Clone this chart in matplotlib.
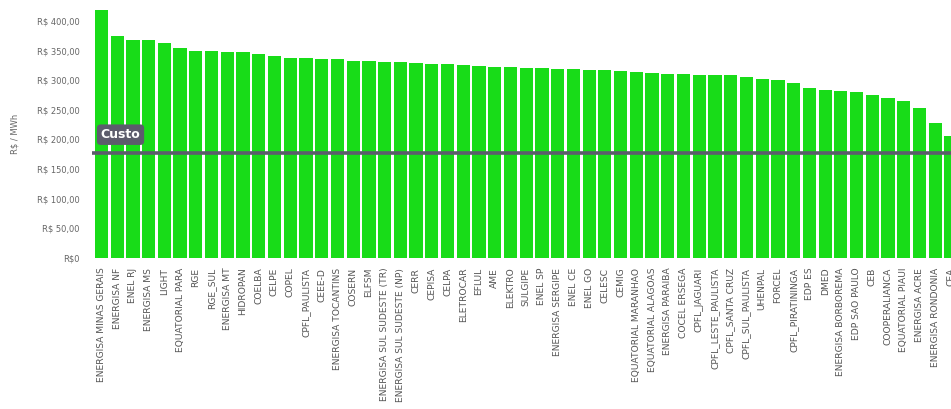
import matplotlib.pyplot as plt

distribuidoras = [
    'ENERGISA MINAS GERAIS', 'ENERGISA NF', 'ENEL RJ', 'ENERGISA MS', 'LIGHT',
    'EQUATORIAL PARA', 'RGE', 'RGE_SUL', 'ENERGISA MT', 'HIDROPAN',
    'COELBA', 'CELPE', 'COPEL', 'CPFL_PAULISTA', 'CEEE-D',
    'ENERGISA TOCANTINS', 'COSERN', 'ELFSM', 'ENERGISA SUL SUDESTE (TR)',
    'ENERGISA SUL SUDESTE (NP)', 'CERR', 'CEPISA', 'CELPA', 'ELETROCAR',
    'EFLUL', 'AME', 'ELEKTRO', 'SULGIPE', 'ENEL SP', 'ENERGISA SERGIPE',
    'ENEL CE', 'ENEL GO', 'CELESC', 'CEMIG', 'EQUATORIAL MARANHAO',
    'EQUATORIAL ALAGOAS', 'ENERGISA PARAIBA', 'COCEL ERSEGA', 'CPFL_JAGUARI',
    'CPFL_LESTE_PAULISTA', 'CPFL_SANTA CRUZ', 'CPFL_SUL_PAULISTA', 'UHENPAL',
    'FORCEL', 'CPFL_PIRATININGA', 'EDP ES', 'DMED', 'ENERGISA BORBOREMA',
    'EDP SAO PAULO', 'CEB', 'COOPERALIANCA', 'EQUATORIAL PIAUI',
    'ENERGISA ACRE', 'ENERGISA RONDONIA', 'CEA',
]
tarifa = [
    418, 374, 368, 367, 362, 354, 350, 350, 348, 347,
    344, 340, 338, 338, 336, 336, 332, 332, 331, 331,
    329, 327, 327, 326, 324, 322, 322, 321, 321, 319,
    319, 317, 317, 316, 314, 312, 311, 311, 309, 309,
    309, 306, 302, 300, 296, 286, 284, 281, 280, 275,
    270, 264, 253, 227, 205,
]
custo = 177
yticks = [0, 50, 100, 150, 200, 250, 300, 350, 400]
ytick_labels = ['R$0', 'R$ 50,00', 'R$ 100,00', 'R$ 150,00', 'R$ 200,00',
                'R$ 250,00', 'R$ 300,00', 'R$ 350,00', 'R$ 400,00']

fig = plt.figure(figsize=(9.51, 4.09), dpi=100)
ax = fig.add_axes([92 / 951, 151 / 409, 1 - 92 / 951, 249 / 409])

x = list(range(len(tarifa)))
ax.bar(x, tarifa, width=0.84, color='#18dc18')
ax.axhline(custo, color='#5c5c6c', linewidth=2.6)
ax.text(-0.05, 208, 'Custo', color='white', fontsize=9, fontweight='bold',
        ha='left', va='center',
        bbox=dict(boxstyle='round,pad=0.3', fc='#5c5c6c', ec='none'))

ax.set_xlim(-0.6, 53.94)
ax.set_ylim(0, 420)
ax.set_xticks(x)
ax.set_xticklabels(distribuidoras, rotation=90, fontsize=6.6, color='#555555')
ax.set_yticks(yticks)
ax.set_yticklabels(ytick_labels, fontsize=6, color='#666666')
ax.tick_params(length=0, pad=7)
ax.tick_params(axis='y', pad=9)
ax.set_ylabel('R$ / MWh', fontsize=6, color='#666666', labelpad=12)
for s in ax.spines.values():
    s.set_visible(False)

fig.savefig('out.png', dpi=100)
